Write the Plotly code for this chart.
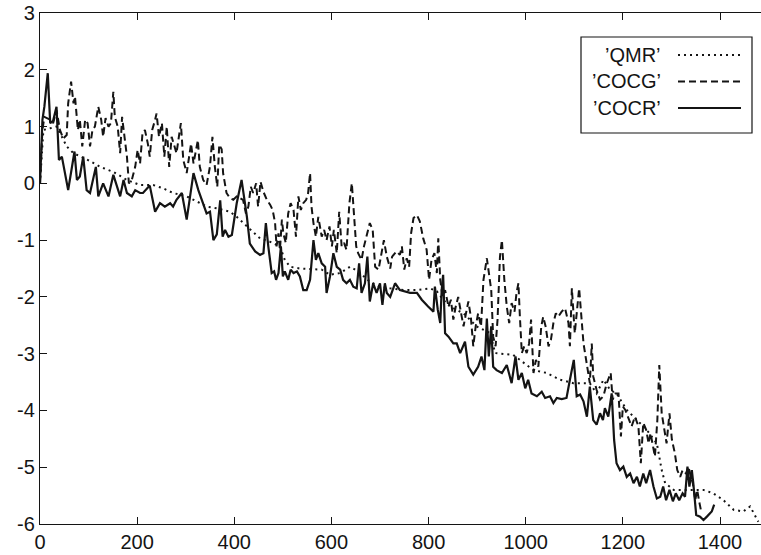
import plotly.graph_objects as go

# ---------------- data ----------------
qmr_iter = [0, 7, 21, 34, 45, 55, 69, 99, 124, 151, 179, 206, 233, 254, 274, 302, 323, 343,
            364, 391, 405, 419, 432, 453, 474, 494, 504, 515, 535, 563, 580, 597, 618, 638,
            655, 679, 700, 721, 748, 776, 803, 817, 830, 844, 872, 899, 927, 937, 974, 1016,
            1043, 1071, 1098, 1132, 1146, 1160, 1174, 1187, 1208, 1229, 1249, 1270, 1280,
            1287, 1305, 1325, 1345, 1366, 1386, 1407, 1428, 1448, 1462, 1472, 1479]
qmr_res = [0.0, 0.94, 0.97, 1.0, 0.82, 0.65, 0.53, 0.41, 0.29, 0.2, 0.06, -0.03, -0.03, -0.09,
           -0.17, -0.23, -0.32, -0.41, -0.44, -0.5, -0.59, -0.7, -0.79, -0.97, -1.03, -1.11,
           -1.35, -1.47, -1.5, -1.52, -1.52, -1.61, -1.58, -1.47, -1.55, -1.73, -1.82, -1.85,
           -1.88, -1.88, -1.85, -1.9, -2.05, -2.17, -2.29, -2.52, -2.64, -2.99, -3.02, -3.29,
           -3.34, -3.46, -3.52, -3.52, -3.7, -3.46, -3.64, -3.7, -3.99, -4.17, -4.34, -4.58,
           -5.05, -5.28, -5.4, -5.4, -5.4, -5.4, -5.46, -5.58, -5.75, -5.78, -5.69, -5.84, -5.96]

cocg_iter = [0, 5, 9, 21, 27, 34, 41, 48, 55, 58, 64, 69, 72, 78, 82, 87, 93, 98, 103, 108,
             113, 120, 126, 130, 135, 141, 146, 151, 154, 160, 165, 169, 174, 179, 183, 189,
             196, 201, 206, 211, 216, 222, 226, 231, 237, 240, 245, 251, 256, 261, 266, 271,
             277, 281, 290, 295, 302, 311, 316, 325, 329, 336, 343, 350, 355, 360, 365, 369,
             374, 377, 384, 391, 398, 405, 412, 418, 424, 429, 434, 439, 445, 449, 454, 460,
             467, 474, 479, 484, 487, 491, 494, 498, 501, 506, 511, 516, 522, 527, 532, 537,
             542, 548, 552, 556, 559, 563, 568, 573, 580, 585, 590, 596, 601, 605, 611, 616,
             621, 626, 631, 637, 642, 647, 651, 655, 662, 667, 673, 679, 685, 690, 697, 704,
             708, 714, 721, 725, 734, 741, 745, 750, 755, 760, 764, 769, 776, 782, 789, 796,
             801, 806, 812, 817, 820, 824, 829, 834, 841, 846, 851, 856, 861, 867, 872, 877,
             882, 887, 892, 897, 902, 908, 913, 920, 924, 929, 933, 938, 942, 947, 951, 956,
             961, 966, 971, 977, 981, 985, 988, 992, 997, 1002, 1007, 1011, 1016, 1021, 1026,
             1032, 1036, 1041, 1047, 1052, 1057, 1062, 1067, 1074, 1081, 1088, 1091, 1095,
             1101, 1110, 1119, 1126, 1132, 1136, 1139, 1146, 1153, 1160, 1167, 1175, 1179,
             1184, 1191, 1196, 1200, 1205, 1211, 1218, 1225, 1232, 1237, 1242, 1248, 1253,
             1257, 1263, 1266, 1271, 1275, 1280, 1285, 1290, 1296, 1301, 1307, 1312, 1318,
             1323, 1330, 1335, 1340, 1344, 1349, 1353, 1358, 1362]
cocg_res = [0.0, 0.94, 1.17, 1.12, 1.06, 1.29, 0.94, 0.79, 0.85, 1.41, 1.79, 1.41, 1.53, 0.94,
            1.12, 0.65, 1.12, 1.06, 0.65, 0.94, 1.0, 1.35, 1.12, 0.82, 1.15, 1.0, 1.06, 1.61,
            1.17, 1.0, 0.53, 1.17, 0.82, 0.47, 0.0, 0.06, 0.29, 0.59, 0.35, 0.88, 0.94, 0.7,
            0.47, 0.94, 1.12, 1.23, 0.82, 1.06, 0.47, 1.0, 0.29, 0.82, 0.65, 0.53, 1.06, 0.41,
            0.18, 0.7, 0.35, 0.76, 0.29, 0.06, -0.03, 0.3, 0.82, 0.29, -0.06, 0.68, 0.6, 0.18,
            -0.17, -0.26, -0.29, -0.23, -0.26, -0.29, -0.53, -0.41, -0.06, -0.17, 0.0, -0.41,
            0.03, -0.15, -0.29, -0.38, -0.47, -0.7, -1.11, -0.88, -1.17, -0.64, -0.88, -1.05,
            -0.53, -0.35, -0.47, -0.94, -0.23, -0.47, -0.35, -0.29, -0.17, 0.18, -0.41, -0.7,
            -0.94, -0.59, -0.94, -0.82, -1.0, -0.76, -1.11, -0.82, -1.23, -0.5, -1.11, -1.05,
            -1.17, -0.35, 0.0, -0.64, -1.11, -1.23, -1.35, -1.11, -0.88, -0.7, -0.82, -1.47,
            -1.52, -1.17, -1.0, -1.29, -1.5, -1.29, -1.2, -1.26, -1.11, -1.52, -1.32, -1.47,
            -0.88, -0.61, -0.56, -0.67, -0.97, -1.17, -1.7, -1.35, -1.23, -1.58, -0.97, -1.7,
            -2.0, -1.88, -2.17, -2.05, -2.4, -2.17, -2.0, -2.29, -2.52, -2.29, -2.08, -2.35,
            -2.87, -2.52, -2.29, -2.52, -1.7, -1.32, -1.58, -1.88, -2.7, -2.87, -2.4, -1.29,
            -1.0, -1.7, -2.17, -2.46, -2.11, -2.26, -1.93, -1.76, -2.35, -2.99, -2.87, -2.99,
            -2.82, -2.4, -3.34, -3.11, -3.23, -2.52, -2.35, -2.52, -2.87, -2.75, -2.46, -2.29,
            -2.35, -2.26, -2.2, -2.46, -2.87, -1.85, -2.64, -1.85, -2.82, -3.23, -3.52, -2.82,
            -3.4, -3.64, -3.81, -3.75, -3.52, -3.34, -3.81, -3.7, -3.7, -4.46, -3.93, -3.99,
            -4.11, -4.28, -4.11, -4.28, -4.93, -4.22, -4.34, -4.58, -4.4, -4.64, -4.81, -4.17,
            -3.2, -4.05, -4.34, -4.58, -4.05, -4.52, -4.75, -5.05, -5.17, -5.05, -5.11, -4.99,
            -5.17, -5.28, -5.58, -5.4, -5.64, -5.81]

cocr_iter = [0, 5, 9, 16, 21, 27, 34, 39, 45, 51, 58, 71, 76, 82, 89, 96, 103, 115, 120, 130,
             141, 151, 158, 165, 172, 179, 189, 196, 206, 212, 226, 237, 247, 257, 268, 274,
             281, 292, 302, 316, 326, 336, 343, 350, 357, 364, 371, 376, 381, 388, 395, 405,
             415, 426, 432, 443, 453, 460, 465, 470, 477, 482, 486, 491, 496, 500, 504, 511,
             516, 522, 529, 535, 542, 549, 556, 563, 568, 573, 580, 587, 590, 597, 604, 611,
             618, 624, 631, 638, 645, 652, 657, 662, 669, 674, 679, 686, 693, 700, 705, 710,
             714, 721, 731, 741, 751, 762, 776, 786, 799, 810, 813, 819, 824, 827, 830, 834,
             841, 851, 858, 865, 875, 882, 892, 902, 909, 915, 920, 924, 929, 933, 940, 951,
             961, 971, 979, 985, 992, 999, 1005, 1012, 1023, 1033, 1040, 1050, 1057, 1064,
             1074, 1084, 1091, 1099, 1105, 1112, 1119, 1126, 1132, 1139, 1146, 1153, 1159,
             1163, 1170, 1177, 1182, 1187, 1194, 1201, 1208, 1215, 1222, 1229, 1235, 1242,
             1248, 1256, 1263, 1270, 1277, 1283, 1289, 1296, 1303, 1309, 1316, 1323, 1328,
             1333, 1337, 1342, 1345, 1351, 1359, 1366, 1373, 1383, 1388]
cocr_res = [0.0, 1.12, 1.35, 1.94, 1.06, 1.1, 1.35, 0.41, 0.47, 0.2, -0.12, 0.56, 0.06, 0.12,
            0.47, -0.12, -0.17, 0.29, -0.23, 0.0, -0.23, 0.15, -0.06, -0.23, 0.06, -0.17,
            -0.23, -0.12, -0.17, -0.17, -0.04, -0.5, -0.35, -0.41, -0.35, -0.41, -0.29, -0.17,
            -0.64, 0.18, -0.12, -0.35, -0.53, -0.5, -1.0, -0.9, -0.3, -0.94, -0.82, -0.94,
            -0.91, -0.35, 0.06, -0.59, -1.06, -1.2, -1.26, -1.23, -0.7, -1.11, -1.58, -1.55,
            -1.7, -1.58, -1.11, -1.64, -1.55, -1.7, -1.52, -1.58, -1.55, -1.64, -1.88, -1.88,
            -1.7, -1.0, -1.35, -1.23, -1.41, -1.47, -1.93, -1.64, -1.23, -1.47, -1.52, -1.7,
            -1.76, -1.7, -1.82, -1.85, -1.41, -1.93, -1.76, -1.29, -2.08, -1.76, -1.93, -1.76,
            -2.14, -1.76, -1.93, -2.0, -1.76, -1.88, -1.91, -1.93, -1.93, -2.05, -2.17, -2.26,
            -1.82, -2.23, -2.46, -1.88, -1.61, -2.64, -2.7, -2.82, -2.82, -2.99, -2.79, -3.23,
            -3.37, -3.23, -3.05, -3.29, -2.38, -3.05, -2.52, -3.23, -3.29, -3.34, -3.2, -3.52,
            -3.05, -3.46, -3.34, -3.61, -3.46, -3.7, -3.75, -3.67, -3.78, -3.75, -3.87, -3.78,
            -3.8, -3.78, -3.46, -3.11, -3.75, -3.72, -3.84, -4.11, -3.58, -4.17, -4.25, -4.05,
            -4.17, -3.96, -4.11, -3.7, -4.52, -4.93, -5.05, -4.99, -5.17, -5.11, -5.28, -5.17,
            -5.34, -5.11, -5.28, -5.05, -5.34, -5.55, -5.52, -5.34, -5.58, -5.4, -5.6, -5.46,
            -5.58, -5.46, -5.52, -4.99, -5.34, -5.05, -5.28, -5.84, -5.87, -5.93, -5.87, -5.78,
            -5.66]

series_names = ["\u2019QMR\u2019", "\u2019COCG\u2019", "\u2019COCR\u2019"]
x_ticks = [0, 200, 400, 600, 800, 1000, 1200, 1400]
y_ticks = [-6, -5, -4, -3, -2, -1, 0, 1, 2, 3]

# ---------------- styling ----------------
INK = "#141414"
FONT = "Liberation Sans, Arial, Helvetica, sans-serif"
dashes = ["2px,4px", "7px,4px", "solid"]
widths = [2.0, 2.0, 2.2]

W, H = 761, 555
ML, MR, MT, MB = 40, 0, 13, 31
PW, PH = W - ML - MR, H - MT - MB


def px2paper_x(px):
    return (px - ML) / PW


def px2paper_y(py):
    return (H - MB - py) / PH


fig = go.Figure()
for xs, ys, name, dash, w in zip([qmr_iter, cocg_iter, cocr_iter],
                                 [qmr_res, cocg_res, cocr_res],
                                 series_names, dashes, widths):
    fig.add_trace(go.Scatter(x=xs, y=ys, mode="lines", name=name,
                             line=dict(color=INK, width=w, dash=dash),
                             showlegend=False))

# custom legend (text left, sample on the right, boxed)
shapes = [dict(type="rect", xref="paper", yref="paper",
               x0=px2paper_x(581), x1=px2paper_x(752),
               y0=px2paper_y(133), y1=px2paper_y(37),
               line=dict(color=INK, width=1.2), fillcolor="white", layer="above")]
annotations = []
row_y = [55, 81.5, 108]
for name, dash, w, ry in zip(series_names, dashes, widths, row_y):
    annotations.append(dict(text=name, xref="paper", yref="paper",
                            x=px2paper_x(663), y=px2paper_y(ry),
                            xanchor="right", yanchor="middle", showarrow=False,
                            font=dict(family=FONT, size=20, color=INK)))
    shapes.append(dict(type="line", xref="paper", yref="paper",
                       x0=px2paper_x(678), x1=px2paper_x(741),
                       y0=px2paper_y(ry), y1=px2paper_y(ry),
                       line=dict(color=INK, width=w, dash=dash), layer="above"))

axis_common = dict(showgrid=False, zeroline=False, showline=True, linecolor=INK,
                   linewidth=1.3, ticks="inside", ticklen=7, tickwidth=1.3,
                   tickcolor=INK, tickfont=dict(family=FONT, size=20, color=INK))

fig.update_layout(
    width=W, height=H,
    margin=dict(l=ML, r=MR, t=MT, b=MB, pad=0),
    paper_bgcolor="white", plot_bgcolor="white",
    xaxis=dict(range=[0, PW / (680 / 1400)], tickvals=x_ticks,
               ticktext=[str(v) for v in x_ticks], mirror="ticks", **axis_common),
    yaxis=dict(range=[-6, 3], tickvals=y_ticks,
               ticktext=[str(v) for v in y_ticks], mirror=False, **axis_common),
    shapes=shapes, annotations=annotations,
    showlegend=False,
)

fig.write_html("out.html")
